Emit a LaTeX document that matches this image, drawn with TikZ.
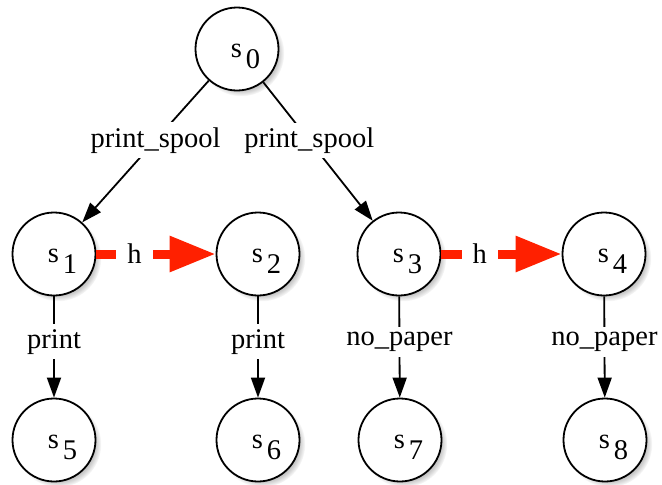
\documentclass[tikz,border=0pt]{standalone}
\usepackage{fontspec}
\setmainfont{Liberation Serif}
\usetikzlibrary{arrows.meta,shadows,fadings}
\definecolor{hred}{RGB}{255,32,0}
\newcommand{\stlab}[1]{s\hspace{4pt}\raisebox{-11pt}{#1}}
\tikzset{
  state/.style={circle, draw=black, line width=1.8pt, fill=white, minimum size=83pt, inner sep=0pt,
    circular drop shadow={shadow xshift=4pt, shadow yshift=-4pt, shadow scale=1.04, opacity=0.45}},
  edge/.style={draw=black, line width=1.8pt, -{Triangle[length=20pt,width=14pt]}},
  hedge/.style={draw=hred, line width=9pt, -{Triangle[length=46pt,width=34pt]}, color=hred},
  elab/.style={fill=white, inner xsep=3pt, inner ysep=5pt, font=\fontsize{28.5}{28.5}\selectfont, text=black},
  hlab/.style={elab, inner xsep=11pt},
  slab/.style={xshift=8.5pt, yshift=-7pt, inner sep=0pt, font=\fontsize{28.5}{28.5}\selectfont}
}
\begin{document}
\begin{tikzpicture}[x=1pt, y=-1pt]
\useasboundingbox (0,0) rectangle (662,485);
\node[state, label={[slab]center:\stlab{0}}] (s0) at (237,49) {};
\node[state, label={[slab]center:\stlab{1}}] (s1) at (54,254) {};
\node[state, label={[slab]center:\stlab{2}}] (s2) at (258,254) {};
\node[state, label={[slab]center:\stlab{3}}] (s3) at (399,254) {};
\node[state, label={[slab]center:\stlab{4}}] (s4) at (604,254) {};
\node[state, label={[slab]center:\stlab{5}}] (s5) at (54,440) {};
\node[state, label={[slab]center:\stlab{6}}] (s6) at (258,440) {};
\node[state, label={[slab]center:\stlab{7}}] (s7) at (400,440) {};
\node[state, label={[slab]center:\stlab{8}}] (s8) at (605,440) {};

\draw[edge] (s0) -- node[elab, pos=0.42] {print\_spool} (s1);
\draw[edge] (s0) -- node[elab, pos=0.42] {print\_spool} (s3);
\draw[edge] (s1) -- node[elab, pos=0.45] {print} (s5);
\draw[edge] (s2) -- node[elab, pos=0.45] {print} (s6);
\draw[edge] (s3) -- node[elab, pos=0.45] {no\_paper} (s7);
\draw[edge] (s4) -- node[elab, pos=0.45] {no\_paper} (s8);

\draw[hedge] (s1) -- node[hlab, pos=0.32] {h} (s2);
\draw[hedge] (s3) -- node[hlab, pos=0.32] {h} (s4);
\end{tikzpicture}
\end{document}
